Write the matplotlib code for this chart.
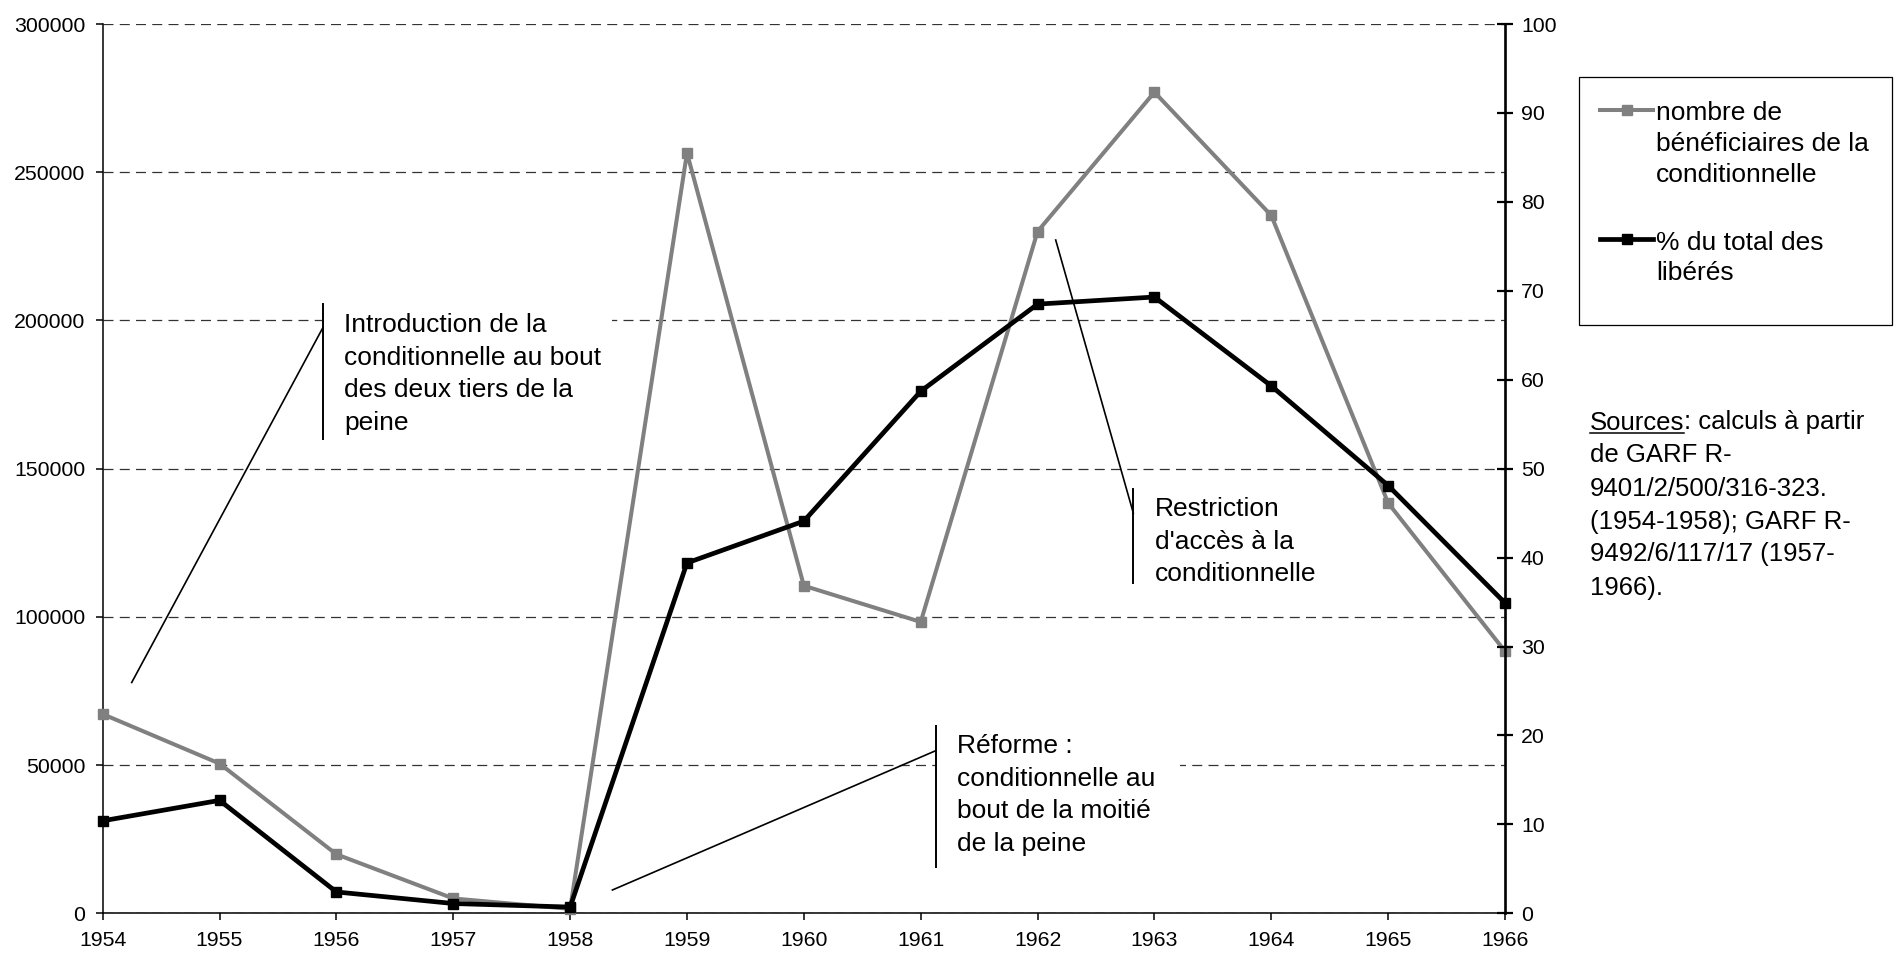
import matplotlib
matplotlib.use("Agg")
import matplotlib.pyplot as plt
from matplotlib.lines import Line2D
from matplotlib.patches import Rectangle

plt.rcParams['font.family'] = ['Liberation Sans', 'DejaVu Sans']

years = [1954, 1955, 1956, 1957, 1958, 1959, 1960, 1961, 1962, 1963, 1964, 1965, 1966]
beneficiaires = [67200, 50500, 19900, 5000, 1500, 256500, 110500, 98300,
                 230000, 277000, 235400, 138400, 88400]
pct_liberes = [10.4, 12.7, 2.4, 1.1, 0.7, 39.4, 44.1, 58.7, 68.5, 69.3, 59.3, 48.1, 34.9]

left_ticks = list(range(0, 300001, 50000))
right_ticks = list(range(0, 101, 10))

label_benef = "nombre de\nbénéficiaires de la\nconditionnelle"
label_pct = "% du total des\nlibérés"
note_intro = "Introduction de la\nconditionnelle au bout\ndes deux tiers de la\npeine"
note_reforme = "Réforme :\nconditionnelle au\nbout de la moitié\nde la peine"
note_restr = "Restriction\nd'accès à la\nconditionnelle"
source_lines = [": calculs à partir", "de GARF R-", "9401/2/500/316-323.",
                "(1954-1958); GARF R-", "9492/6/117/17 (1957-", "1966)."]

W, H = 1894, 956
fig = plt.figure(figsize=(W / 100, H / 100), dpi=100)


def fx(px):
    return px / W


def fy(py):
    return 1 - py / H


ax = fig.add_axes([fx(102.7), fy(913.3), (1505 - 102.7) / W, (913.3 - 24) / H])
ax.plot(years, beneficiaires, color='#808080', lw=2.9, marker='s', ms=7,
        clip_on=False, zorder=3)
ax.set_xlim(1954, 1966)
ax.set_ylim(0, 300000)
ax.set_xticks(years)
ax.set_yticks(left_ticks)
ax.yaxis.grid(True, color='#333333', lw=0.9, ls=(0, (8, 5)))
ax.spines['top'].set_visible(False)
ax.spines['right'].set_visible(False)
ax.spines['left'].set_linewidth(1.1)
ax.spines['bottom'].set_linewidth(1.1)
ax.tick_params(axis='both', labelsize=15.3, direction='out', length=5, width=1.1)
ax.tick_params(axis='y', pad=7.5)
ax.tick_params(axis='x', pad=8)

ax2 = ax.twinx()
ax2.plot(years, pct_liberes, color='black', lw=3.4, marker='s', ms=7, clip_on=False)
ax2.set_ylim(0, 100)
ax2.set_yticks(right_ticks)
for s in ['top', 'left', 'bottom']:
    ax2.spines[s].set_visible(False)
ax2.spines['right'].set_linewidth(1.9)
ax2.tick_params(axis='y', labelsize=15.3, direction='inout', length=11, width=1.6, pad=6)


def note(lines_text, x_text, y_first, box, bar, leader):
    # white text box, vertical bar, leader line and text lines
    bx0, by0, bx1, by1 = box
    fig.add_artist(Rectangle((fx(bx0), fy(by1)), (bx1 - bx0) / W, (by1 - by0) / H,
                             transform=fig.transFigure, facecolor='white',
                             edgecolor='none'))
    fig.add_artist(Line2D([fx(bar[0]), fx(bar[0])], [fy(bar[1]), fy(bar[2])],
                          transform=fig.transFigure, color='black', lw=1.4))
    fig.add_artist(Line2D([fx(leader[0]), fx(leader[2])], [fy(leader[1]), fy(leader[3])],
                          transform=fig.transFigure, color='black', lw=1.2))
    for i, line in enumerate(lines_text.split("\n")):
        fig.text(fx(x_text), fy(y_first + i * 32.6 + 9.5), line, fontsize=19,
                 va='baseline', ha='left')


note(note_intro, 344, 322.5, (322, 304, 612, 440), (322.7, 304, 439),
     (131.7, 682.5, 322.7, 328))
note(note_reforme, 957, 743.5, (936, 726, 1180, 867), (935.7, 726, 867),
     (612.4, 890, 935.7, 750.7))
note(note_restr, 1155, 506.5, (1133, 489, 1300, 583), (1133.3, 489, 583),
     (1055.7, 240, 1133.3, 513))
# the Restriction text box is too small: its last line is cut off at the bottom
fig.add_artist(Rectangle((fx(1136), fy(598)), 180 / W, 17 / H, transform=fig.transFigure,
                         facecolor='white', edgecolor='none', zorder=5))

# legend box
fig.add_artist(Rectangle((fx(1579), fy(325)), (1892 - 1579) / W, (325 - 77) / H,
                         transform=fig.transFigure, facecolor='white',
                         edgecolor='black', lw=0.9))
for y_h, color, label, lw in [(110, '#808080', label_benef, 2.9), (239, 'black', label_pct, 3.4)]:
    fig.add_artist(Line2D([fx(1600), fx(1653)], [fy(y_h), fy(y_h)], transform=fig.transFigure,
                          color=color, lw=lw))
    fig.add_artist(Line2D([fx(1626.5)], [fy(y_h)], transform=fig.transFigure,
                          color=color, marker='s', ms=7, lw=0))
    for i, line in enumerate(label.split("\n")):
        fig.text(fx(1656), fy(y_h + 1 + i * 30.8 + 9.5), line, fontsize=19, va='baseline')

# sources
y0 = 420 + 9.5
t_src = fig.text(fx(1590), fy(y0), "Sources", fontsize=18.5, va='baseline')
fig.canvas.draw()
bb = t_src.get_window_extent().transformed(fig.transFigure.inverted())
fig.add_artist(Line2D([bb.x0, bb.x1], [fy(y0 + 3), fy(y0 + 3)], transform=fig.transFigure,
                      color='black', lw=1.1))
for i, line in enumerate(source_lines):
    x = bb.x1 if i == 0 else fx(1590)
    fig.text(x, fy(y0 + i * 33), line, fontsize=18.5, va='baseline')

fig.savefig("out.png", dpi=100)
